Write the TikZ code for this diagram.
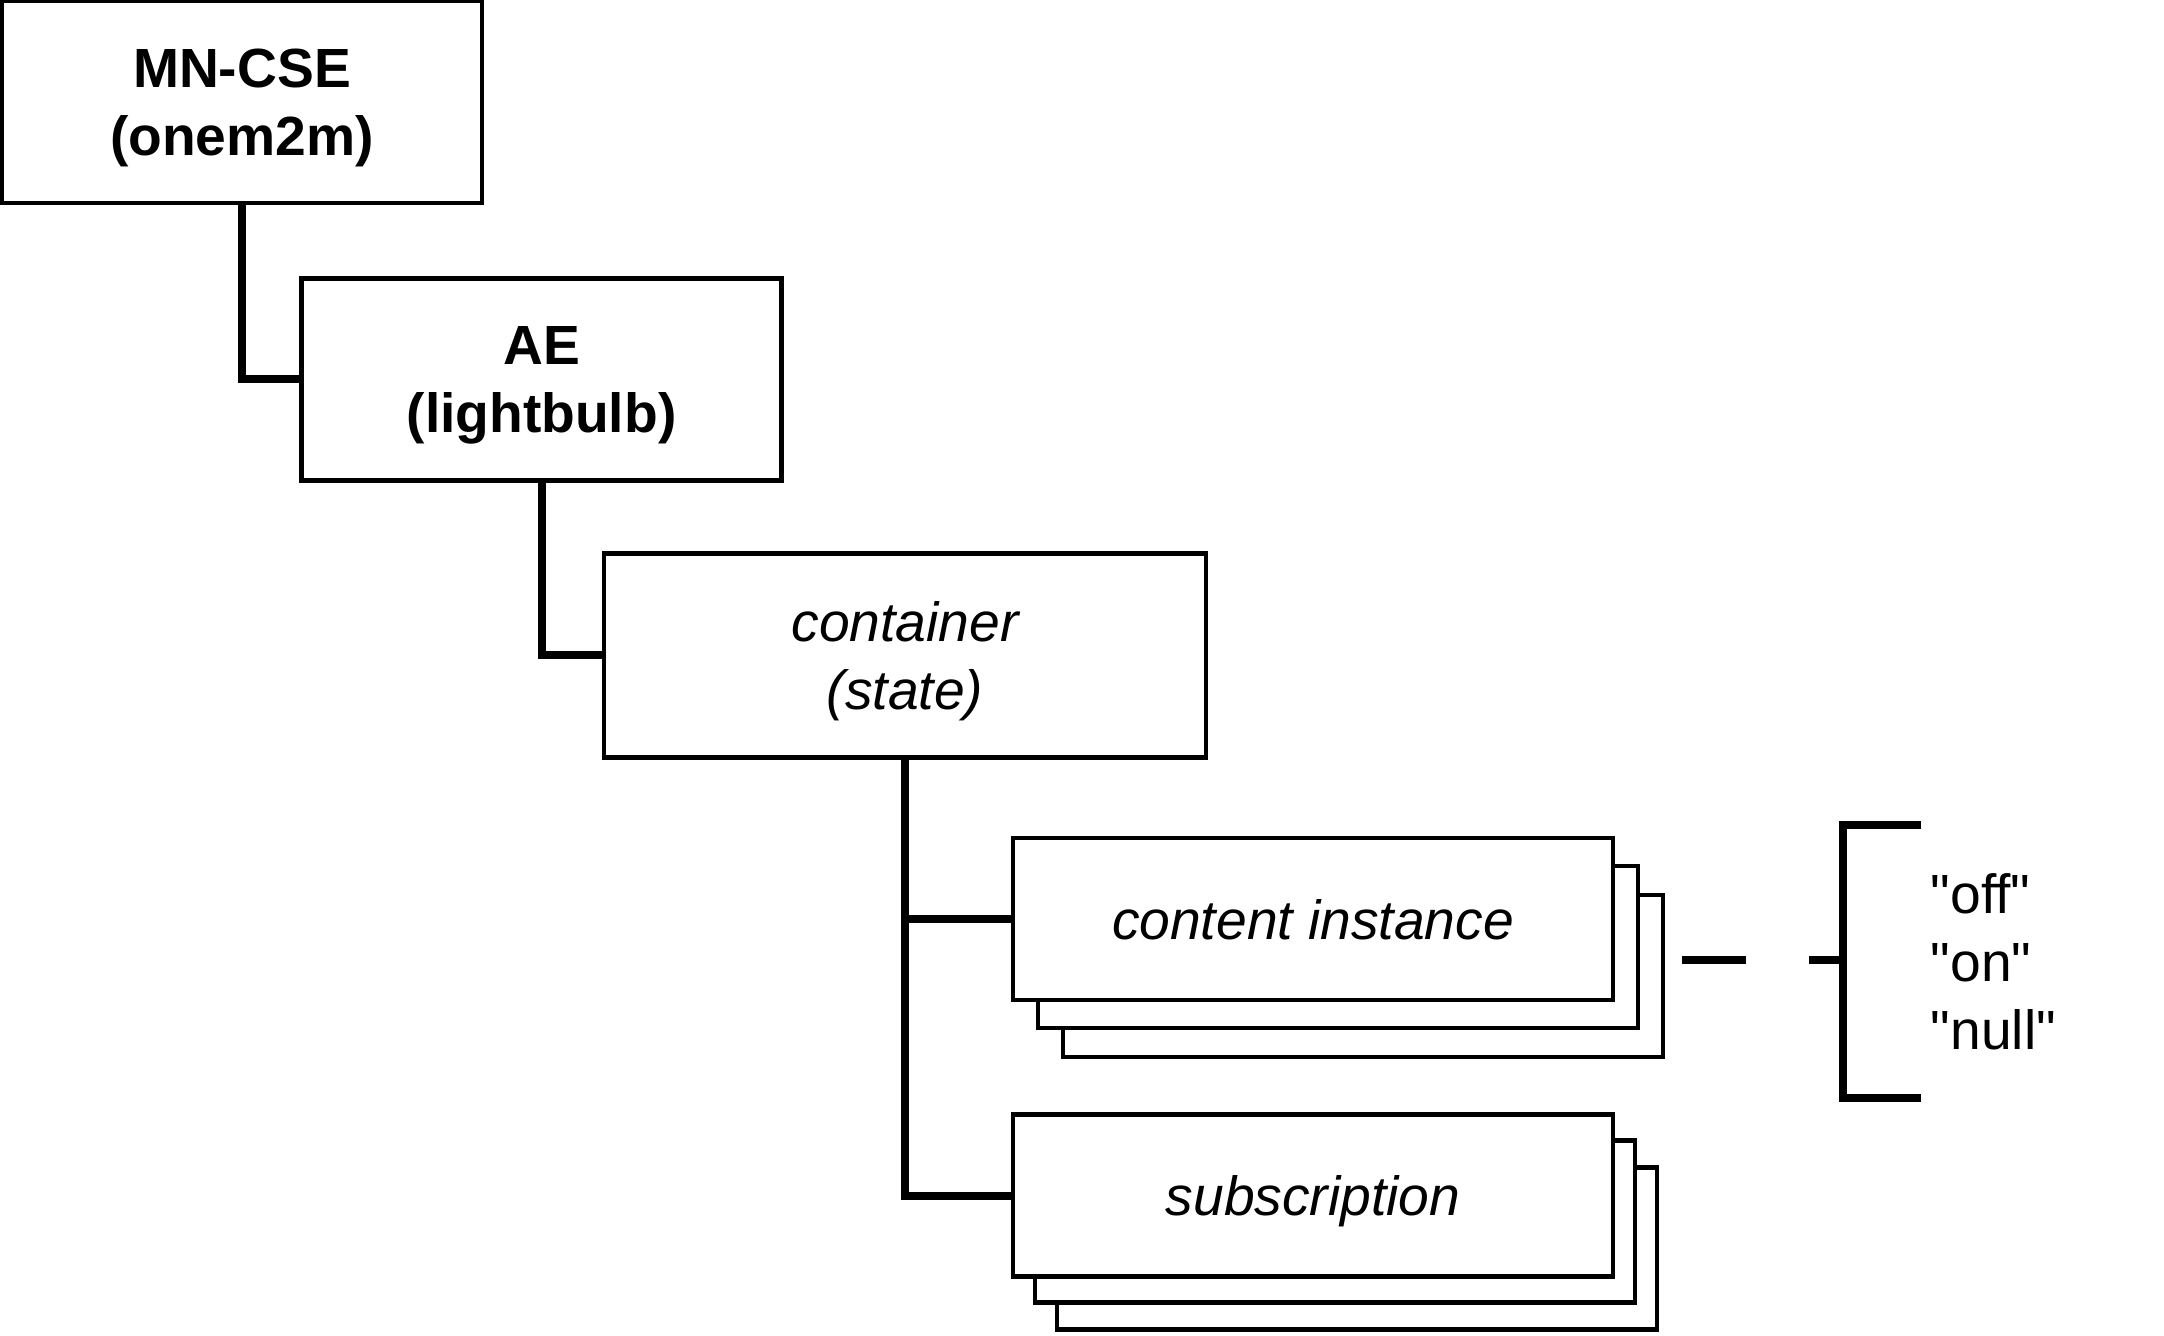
\documentclass[tikz,border=0pt]{standalone}
\usepackage{fontspec}
\setmainfont{Liberation Sans}[Ligatures=TeXOff]
\usetikzlibrary{positioning}
\tikzset{
  resbox/.style={draw=black,fill=white,line width=1.1pt,inner sep=0pt,align=center,
    font=\fontsize{13.8}{17}\selectfont},
  bigbox/.style={resbox,minimum width=120pt,minimum height=50.5pt,text depth=-0.5pt},
  widebox/.style={resbox,minimum width=150.5pt,minimum height=51pt,text depth=-0.5pt},
  stackbox/.style={resbox,minimum width=150pt,minimum height=40.5pt,text depth=0pt},
  link/.style={line width=2pt},
}
\begin{document}
\begin{tikzpicture}[x=0.25pt,y=-0.25pt]
\useasboundingbox (0,0) rectangle (2164,1336);
% Drawing resources
\node[bigbox] (mncse) at (242,102) {\bfseries MN-CSE\\\bfseries (onem2m)};
\node[bigbox] (ae) at (541.5,379.5) {\bfseries AE\\\bfseries (lightbulb)};
\node[widebox] (cnt) at (905,655.5) {\itshape container\\\itshape (state)};
% Stacked instances, back layers first
\foreach \dx/\dy in {50/57,25/28}
  \node[stackbox] (ci\dx) at (1313+\dx,919+\dy) {};
\node[stackbox] (ci) at (1313,919) {\itshape content instance};
\foreach \dx/\dy in {44/53,22/26}
  \node[stackbox] (sub\dx) at (1313+\dx,1195.5+\dy) {};
\node[stackbox] (sub) at (1313,1195.5) {\itshape subscription};
% Done with resources; drawing links
\draw[link] (mncse.south) |- (ae.west);
\draw[link] (ae.south) |- (cnt.west);
\draw[link] (cnt.south) |- (ci.west);
\draw[link] (cnt.south) |- (sub.west);
% Possible values of a content instance
\coordinate (tick) at (1682,960);
\coordinate (brk) at (1843,960);
\draw[line width=1.8pt,dash pattern=on 16pt off 15.75pt] (tick) -- (brk);
\draw[link] (1921,825) -- (1843,825) -- (brk) -- (1843,1098) -- (1921,1098);
\node[anchor=west,align=left,inner sep=0pt,font=\fontsize{13.8}{17}\selectfont] (vals) at (1930,962) {"off"\\"on"\\"null"};
\end{tikzpicture}
\end{document}
